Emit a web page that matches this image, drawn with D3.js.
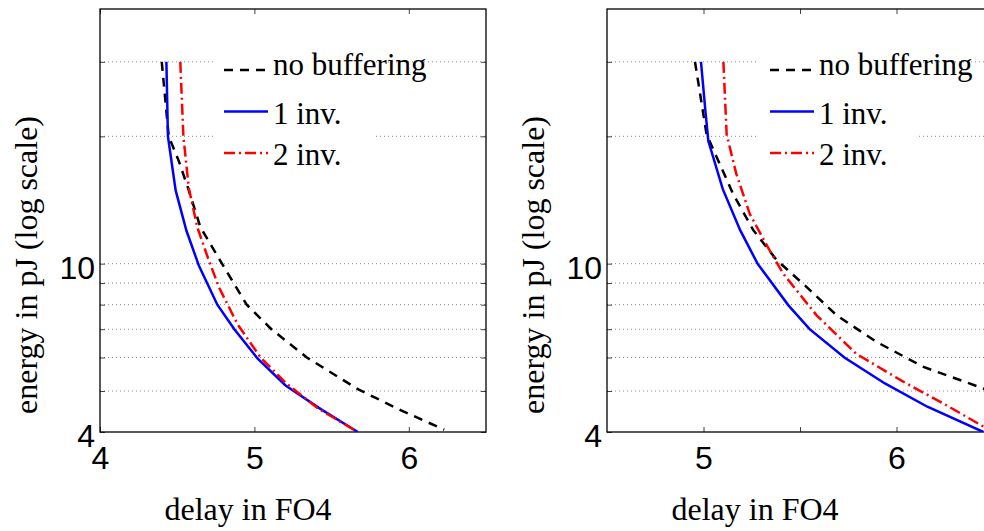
<!DOCTYPE html>
<html>
<head>
<meta charset="utf-8">
<script src="https://cdn.jsdelivr.net/npm/d3@7/dist/d3.min.js"></script>
<style>
  html, body { margin: 0; padding: 0; background: #fff; }
  svg { display: block; overflow: hidden; }
</style>
</head>
<body>
<div id="chart"></div>
<script>
// energy grid (log axis) and tick labels
const gridValues = [4, 5, 6, 7, 8, 9, 10, 20, 30];
const yTickLabels = [4, 10];

const leftXTicks = [4, 5, 6];
const leftXLabels = ['4', '5', '6'];
const rightXTicks = [5, 5.5, 6];
const rightXLabels = ['5', '', '6'];

const legendNames = ['no buffering', '1 inv.', '2 inv.'];

// [delay in FO4, energy in pJ]
const leftNoBuffering = [[4.40, 30], [4.445, 20], [4.51, 17.5], [4.57, 15.1], [4.65, 12.2], [4.79, 10],
    [4.95, 8], [5.11, 7], [5.34, 6], [5.67, 5.05], [5.95, 4.5], [6.23, 4.05]];
const leftOneInv = [[4.43, 30], [4.44, 20], [4.49, 14.9], [4.56, 11.96], [4.64, 9.9], [4.76, 8],
    [4.87, 7], [5.02, 5.97], [5.20, 5.16], [5.43, 4.53], [5.67, 4]];
const leftTwoInv = [[4.52, 30], [4.54, 20], [4.575, 15.1], [4.63, 12.2], [4.70, 10.3], [4.77, 8.8],
    [4.89, 7.2], [5.04, 6], [5.21, 5.2], [5.41, 4.55], [5.67, 4]];

const rightNoBuffering = [[4.956, 30], [5.016, 20.2], [5.154, 14.6], [5.258, 12], [5.379, 10.2], [5.535, 8.8],
    [5.69, 7.55], [5.897, 6.53], [6.14, 5.70], [6.45, 5.07], [6.5, 4.97]];
const rightOneInv = [[4.987, 30], [5.01, 22.9], [5.025, 19.5], [5.10, 15], [5.19, 12], [5.28, 10],
    [5.44, 7.97], [5.55, 7], [5.73, 6], [5.94, 5.21], [6.16, 4.59], [6.45, 4]];
const rightTwoInv = [[5.103, 30], [5.12, 20.2], [5.17, 16.3], [5.24, 13.1], [5.345, 10.7], [5.414, 9.46],
    [5.586, 7.55], [5.79, 6.13], [6.035, 5.26], [6.24, 4.68], [6.45, 4.12], [6.5, 4.04]];

const COLORS = ['#000000', '#0000ff', '#ff0000'];
const DASHES = ['9,7', null, '11,4,2,4'];

const WIDTH = 984, HEIGHT = 531;
const TOP = 9, BOTTOM = 432, PLOT_W = 386;
const SERIF = '"Liberation Serif", "Times New Roman", serif';
const SANS = '"Liberation Sans", Arial, sans-serif';

const svg = d3.select('#chart').append('svg')
    .attr('width', WIDTH)
    .attr('height', HEIGHT);

const panels = [
    { id: 'l', left: 100, domain: [4, 6.5], ticks: leftXTicks, labels: leftXLabels,
      series: [leftNoBuffering, leftOneInv, leftTwoInv], legendX: 224, boxX: 213 },
    { id: 'r', left: 607, domain: [4.5, 6.5], ticks: rightXTicks, labels: rightXLabels,
      series: [rightNoBuffering, rightOneInv, rightTwoInv], legendX: 770, boxX: 757 }
];

panels.forEach(drawPanel);

function drawPanel(p) {
    const x = d3.scaleLinear().domain(p.domain).range([p.left, p.left + PLOT_W]);
    const y = d3.scaleLog().domain([4, 40]).range([BOTTOM, TOP]);

    svg.append('clipPath').attr('id', 'clip-' + p.id)
        .append('rect')
        .attr('x', p.left).attr('y', TOP)
        .attr('width', PLOT_W).attr('height', BOTTOM - TOP);

    const g = svg.append('g');

    // dotted grid
    g.selectAll('line.grid')
        .data(gridValues.filter(v => v > 4))
        .enter().append('line')
        .attr('class', 'grid')
        .attr('x1', p.left).attr('x2', p.left + PLOT_W)
        .attr('y1', d => y(d)).attr('y2', d => y(d))
        .attr('stroke', '#8a8a8a')
        .attr('stroke-width', 1)
        .attr('stroke-dasharray', '1,3');

    // axes, ticks pointing inward
    const fmtX = d => p.labels[p.ticks.indexOf(d)];
    const bottom = g.append('g').attr('transform', `translate(0,${BOTTOM})`)
        .call(d3.axisBottom(x).tickValues(p.ticks).tickFormat(fmtX)
            .tickSizeInner(-5).tickSizeOuter(0).tickPadding(14));
    g.append('g').attr('transform', `translate(0,${TOP})`)
        .call(d3.axisTop(x).tickValues(p.ticks).tickFormat('')
            .tickSizeInner(-5).tickSizeOuter(0));

    const fmtY = d => yTickLabels.includes(d) ? String(d) : '';
    const leftAxis = g.append('g').attr('transform', `translate(${p.left},0)`)
        .call(d3.axisLeft(y).tickValues(gridValues).tickFormat(fmtY)
            .tickSizeInner(-5).tickSizeOuter(0).tickPadding(5));
    g.append('g').attr('transform', `translate(${p.left + PLOT_W},0)`)
        .call(d3.axisRight(y).tickValues(gridValues).tickFormat('')
            .tickSizeInner(-5).tickSizeOuter(0));

    g.selectAll('.domain').remove();
    g.selectAll('.tick line').attr('stroke', '#444');
    g.selectAll('.tick text')
        .attr('font-family', SANS)
        .attr('font-size', 32)
        .attr('fill', '#000');
    leftAxis.selectAll('.tick text').attr('dy', '0.45em');

    g.append('rect')
        .attr('x', p.left).attr('y', TOP)
        .attr('width', PLOT_W).attr('height', BOTTOM - TOP)
        .attr('fill', 'none')
        .attr('stroke', '#000')
        .attr('stroke-width', 1.3);

    // curves
    const line = d3.line().x(d => x(d[0])).y(d => y(d[1]));
    g.append('g').attr('clip-path', `url(#clip-${p.id})`)
        .selectAll('path')
        .data(p.series)
        .enter().append('path')
        .attr('d', line)
        .attr('fill', 'none')
        .attr('stroke', (d, i) => COLORS[i])
        .attr('stroke-width', 2.5)
        .attr('stroke-dasharray', (d, i) => DASHES[i]);

    // legend
    const lg = g.append('g');
    lg.append('rect')
        .attr('x', p.boxX).attr('y', 45)
        .attr('width', 160).attr('height', 130)
        .attr('fill', '#fff');
    const rows = lg.selectAll('g.row')
        .data(legendNames)
        .enter().append('g')
        .attr('class', 'row')
        .attr('transform', (d, i) => `translate(${p.legendX},${70 + i * 41.5})`);
    rows.append('line')
        .attr('x1', 0).attr('x2', 44)
        .attr('stroke', (d, i) => COLORS[i])
        .attr('stroke-width', 2.5)
        .attr('stroke-dasharray', (d, i) => DASHES[i]);
    rows.append('text')
        .attr('x', 49)
        .attr('y', (d, i) => i === 0 ? 5 : 12)
        .attr('font-family', SERIF)
        .attr('font-size', 31)
        .text(d => d);

    // axis labels
    g.append('text')
        .attr('x', p.left + 148).attr('y', 520)
        .attr('text-anchor', 'middle')
        .attr('font-family', SERIF)
        .attr('font-size', 32)
        .text('delay in FO4');
    g.append('text')
        .attr('transform', `translate(${p.left - 63},265) rotate(-90)`)
        .attr('text-anchor', 'middle')
        .attr('font-family', SERIF)
        .attr('font-size', 32)
        .text('energy in pJ (log scale)');
}
</script>
</body>
</html>
